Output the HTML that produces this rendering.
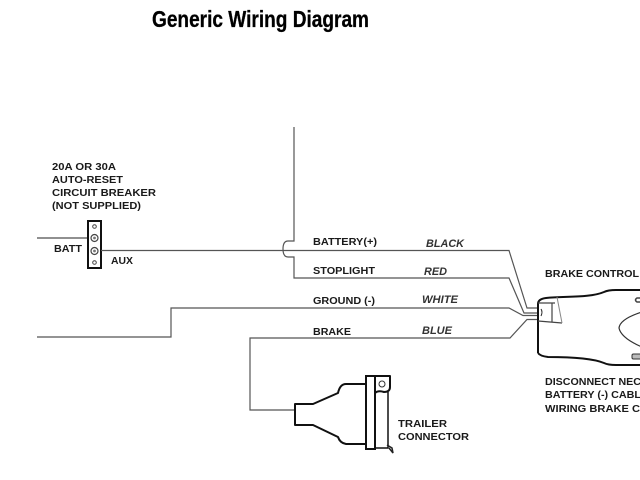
<!DOCTYPE html>
<html>
<head>
<meta charset="utf-8">
<style>
html,body{margin:0;padding:0;background:#fff;width:640px;height:480px;overflow:hidden}
svg{display:block;filter:blur(0.35px)}
text{font-family:"Liberation Sans",sans-serif;font-weight:bold;font-size:10.5px;fill:#1a1a1a}
.i{font-style:italic;font-size:11px;fill:#333}
.w{fill:none;stroke:#555;stroke-width:1.2}
.k{fill:none;stroke:#111;stroke-width:2;stroke-linejoin:round}
</style>
</head>
<body>
<svg width="640" height="480" viewBox="0 0 640 480" xmlns="http://www.w3.org/2000/svg">
<rect width="640" height="480" fill="#fff"/>
<text x="152" y="27" textLength="217" lengthAdjust="spacingAndGlyphs" style="font-size:23px;fill:#000;stroke:#000;stroke-width:.3">Generic Wiring Diagram</text>

<!-- breaker labels -->
<text x="52" y="170" textLength="64" lengthAdjust="spacingAndGlyphs">20A OR 30A</text>
<text x="52" y="183" textLength="71" lengthAdjust="spacingAndGlyphs">AUTO-RESET</text>
<text x="52" y="196" textLength="104" lengthAdjust="spacingAndGlyphs">CIRCUIT BREAKER</text>
<text x="52" y="209" textLength="89" lengthAdjust="spacingAndGlyphs">(NOT SUPPLIED)</text>
<text x="54" y="252" textLength="28" lengthAdjust="spacingAndGlyphs">BATT</text>
<text x="111" y="264" textLength="22" lengthAdjust="spacingAndGlyphs">AUX</text>

<!-- breaker -->
<path d="M37 238H88" fill="none" stroke="#222" stroke-width="1"/>
<rect x="88" y="221" width="13" height="47" fill="#fff" stroke="#111" stroke-width="2"/>
<circle cx="94.500" cy="226.500" r="1.800" fill="none" stroke="#444"/>
<circle cx="94.500" cy="238" r="3.500" fill="none" stroke="#444" stroke-width="1.200"/>
<circle cx="94.500" cy="238" r="1.400" fill="#777"/>
<circle cx="94.500" cy="251" r="3.500" fill="none" stroke="#444" stroke-width="1.200"/>
<circle cx="94.500" cy="251" r="1.400" fill="#777"/>
<circle cx="94.500" cy="262.500" r="1.800" fill="none" stroke="#444"/>

<!-- wires -->
<path class="w" d="M101 250.500H509L527 308H538"/>
<path class="w" d="M294 127V241H288Q283 241 283 249Q283 257 288 257H294V278H509L524 313H538"/>
<path class="w" d="M37 337H171V308H509L523 315.500H538"/>
<path class="w" d="M295 410H250V338H510L527 319.500H538"/>

<!-- wire labels -->
<text x="313" y="245" textLength="64" lengthAdjust="spacingAndGlyphs">BATTERY(+)</text>
<text x="313" y="274" textLength="62" lengthAdjust="spacingAndGlyphs">STOPLIGHT</text>
<text x="313" y="304" textLength="62" lengthAdjust="spacingAndGlyphs">GROUND (-)</text>
<text x="313" y="335" textLength="38" lengthAdjust="spacingAndGlyphs">BRAKE</text>
<text class="i" x="426" y="247" textLength="38" lengthAdjust="spacingAndGlyphs">BLACK</text>
<text class="i" x="424" y="275" textLength="23" lengthAdjust="spacingAndGlyphs">RED</text>
<text class="i" x="422" y="303" textLength="36" lengthAdjust="spacingAndGlyphs">WHITE</text>
<text class="i" x="422" y="334" textLength="30" lengthAdjust="spacingAndGlyphs">BLUE</text>

<!-- controller -->
<text x="545" y="277" textLength="94" lengthAdjust="spacingAndGlyphs">BRAKE CONTROL</text>
<path class="k" d="M538 353V304Q538 299 546 298C565 296 590 298 604 292Q608 290 616 290H642"/>
<path class="k" d="M538 353Q540 356 548 357C570 357 592 358 604 363Q608 365 616 365H642"/>
<path fill="none" stroke="#444" stroke-width="1.200" d="M538 303H555M552 303V322M538 321L562 323"/>
<path fill="none" stroke="#888" stroke-width="1" d="M557 297L562 323"/>
<path fill="none" stroke="#222" stroke-width="1" d="M541 309Q543 312 541 316"/>
<path fill="none" stroke="#333" stroke-width="1.200" d="M642 312Q620 319 619 328Q621 338 642 347"/>
<path fill="none" stroke="#444" stroke-width="1.500" d="M641 298H637Q634 300 637 302H641"/>
<rect x="632" y="354" width="10" height="5" rx="1.500" fill="#bbb" stroke="#333"/>
<text x="545" y="385" textLength="96" lengthAdjust="spacingAndGlyphs">DISCONNECT NEC</text>
<text x="545" y="398" textLength="96" lengthAdjust="spacingAndGlyphs">BATTERY (-) CABL</text>
<text x="545" y="412" textLength="95" lengthAdjust="spacingAndGlyphs">WIRING BRAKE C</text>

<!-- trailer connector -->
<path class="k" d="M295 404V425H313L338 437Q340 443 346 444H366V384H346Q340 384 338 393L313 404Z"/>
<rect x="366" y="376" width="9" height="73" fill="#fff" stroke="#111" stroke-width="2"/>
<path class="k" d="M375 376H390V387Q390 392 384 392Q378 390 375 393"/>
<circle cx="382" cy="384" r="3" fill="none" stroke="#333" stroke-width="1"/>
<path class="k" d="M376 448H388V392" style="stroke-width:1.500"/>
<path fill="none" stroke="#222" stroke-width="1.500" d="M387 445L392 448L393 453L389 448"/>
<text x="398" y="427" textLength="49" lengthAdjust="spacingAndGlyphs">TRAILER</text>
<text x="398" y="440" textLength="71" lengthAdjust="spacingAndGlyphs">CONNECTOR</text>
</svg>
</body>
</html>
